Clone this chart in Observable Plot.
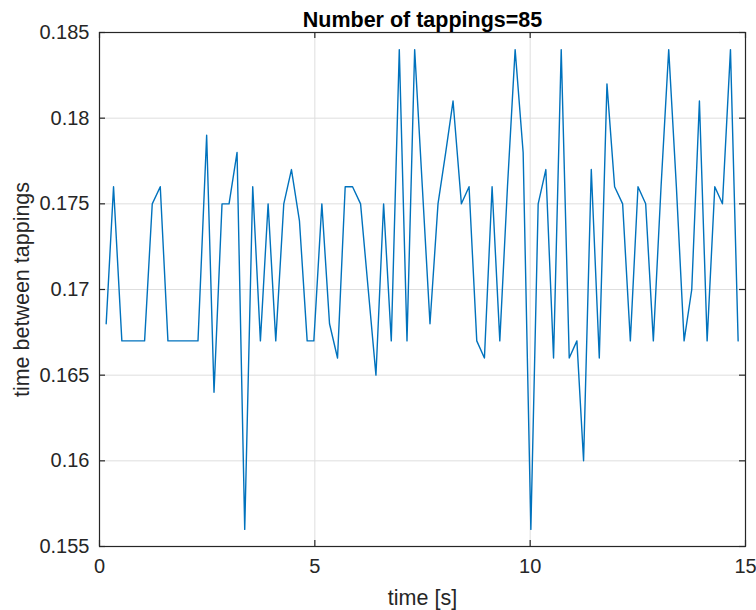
<!DOCTYPE html>
<html><head><meta charset="utf-8">
<script src="https://cdn.jsdelivr.net/npm/d3@7"></script>
<script src="https://cdn.jsdelivr.net/npm/@observablehq/plot@0.6"></script>
<style>body{margin:0;background:#fff} svg{display:block}</style>
</head><body><div id="chart"></div>
<script>
const title = "Number of tappings=85";
const xLabel = "time [s]";
const yLabel = "time between tappings";
const xTicks = [0, 5, 10, 15];
const xTickLabels = ["0", "5", "10", "15"];
const yTicks = [0.155, 0.16, 0.165, 0.17, 0.175, 0.18, 0.185];
const yTickLabels = ["0.155", "0.16", "0.165", "0.17", "0.175", "0.18", "0.185"];

const times = [
  0.155,0.326,0.519,0.698,0.876,1.047,1.225,1.411,1.589,1.767,
  1.946,2.116,2.287,2.488,2.659,2.845,3.008,3.194,3.372,3.558,
  3.736,3.915,4.093,4.279,4.457,4.643,4.822,4.977,5.163,5.341,
  5.527,5.705,5.876,6.062,6.240,6.419,6.597,6.775,6.961,7.140,
  7.318,7.496,7.674,7.860,8.039,8.209,8.403,8.581,8.760,8.938,
  9.116,9.295,9.473,9.651,9.837,10.016,10.186,10.364,10.543,10.721,
  10.907,11.085,11.240,11.419,11.605,11.783,11.961,12.147,12.326,12.504,
  12.682,12.860,13.039,13.217,13.395,13.574,13.752,13.930,14.109,14.287,
  14.465,14.651,14.829
];
const intervals = [
  0.168,0.176,0.167,0.167,0.167,0.167,0.175,0.176,0.167,0.167,
  0.167,0.167,0.167,0.179,0.164,0.175,0.175,0.178,0.156,0.176,
  0.167,0.175,0.167,0.175,0.177,0.174,0.167,0.167,0.175,0.168,
  0.166,0.176,0.176,0.175,0.170,0.165,0.175,0.167,0.184,0.167,
  0.184,0.176,0.168,0.175,0.178,0.181,0.175,0.176,0.167,0.166,
  0.176,0.167,0.176,0.184,0.178,0.156,0.175,0.177,0.166,0.184,
  0.166,0.167,0.160,0.177,0.166,0.182,0.176,0.175,0.167,0.176,
  0.175,0.167,0.176,0.184,0.176,0.167,0.170,0.181,0.167,0.176,
  0.175,0.184,0.167
];

const data = times.map((t, i) => ({t, v: intervals[i]}));

const W = 756, H = 610;
const mL = 99, mR = 11, mT = 32, mB = 64;
const fw = W - mL - mR, fh = H - mT - mB;
const axisColor = "#262626";
const gridColor = "#dedede";
const font = "'Liberation Sans', Arial, Helvetica, sans-serif";
const tickLen = 6;

const chart = Plot.plot({
  width: W, height: H,
  marginLeft: mL, marginRight: mR, marginTop: mT, marginBottom: mB,
  style: {fontFamily: font, background: "#fff", color: axisColor},
  x: {domain: [0, 15]},
  y: {domain: [0.155, 0.185]},
  marks: [
    Plot.gridX(xTicks, {stroke: gridColor, strokeOpacity: 1}),
    Plot.gridY(yTicks, {stroke: gridColor, strokeOpacity: 1}),
    Plot.line(data, {x: "t", y: "v", stroke: "#0072BD", strokeWidth: 1.4}),
    Plot.frame({stroke: axisColor, strokeWidth: 1.2}),
    Plot.ruleX(xTicks, {x: d => d, insetTop: fh - tickLen, stroke: axisColor, strokeWidth: 1.2}),
    Plot.ruleX(xTicks, {x: d => d, insetBottom: fh - tickLen, stroke: axisColor, strokeWidth: 1.2}),
    Plot.ruleY(yTicks, {y: d => d, insetRight: fw - tickLen, stroke: axisColor, strokeWidth: 1.2}),
    Plot.ruleY(yTicks, {y: d => d, insetLeft: fw - tickLen, stroke: axisColor, strokeWidth: 1.2}),
    Plot.axisX(xTicks, {anchor: "bottom", tickSize: 0, tickPadding: 12, fontSize: 20, fill: axisColor,
      tickFormat: d => xTickLabels[xTicks.indexOf(d)], label: null}),
    Plot.axisY(yTicks, {anchor: "left", tickSize: 0, tickPadding: 10, fontSize: 20, fill: axisColor,
      tickFormat: d => yTickLabels[yTicks.indexOf(d)], label: null}),
    Plot.text([xLabel], {frameAnchor: "bottom", dy: 52, lineAnchor: "middle", fontSize: 21.5, fill: axisColor}),
    Plot.text([yLabel], {frameAnchor: "left", dx: -77, rotate: -90, lineAnchor: "middle", textAnchor: "middle", fontSize: 21.5, fill: axisColor}),
    Plot.text([title], {frameAnchor: "top", dy: -6, lineAnchor: "bottom", fontSize: 21.5, fontWeight: "bold", fill: "#000"})
  ]
});
document.getElementById("chart").appendChild(chart);
</script>
</body></html>
